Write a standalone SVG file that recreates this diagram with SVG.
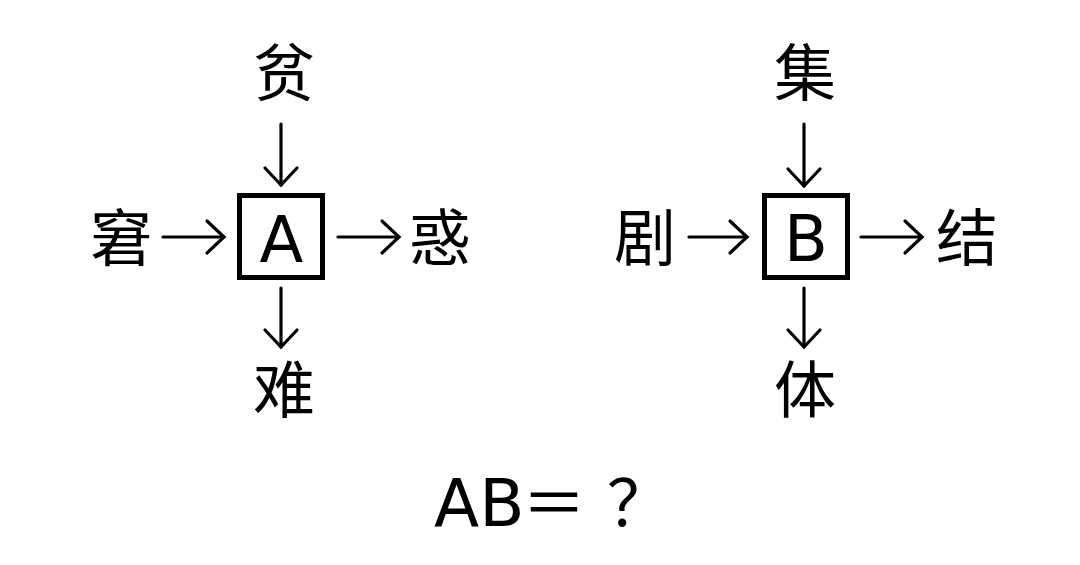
<svg xmlns="http://www.w3.org/2000/svg" width="1080" height="565" viewBox="0 0 1080 565">
<defs>
<style>
.t{font-family:"Noto Sans CJK SC","Noto Sans",sans-serif;font-size:62px;fill:#000;text-anchor:middle}
.L{font-family:"DejaVu Sans","Noto Sans",sans-serif;font-size:64px;fill:#000;text-anchor:middle}
.Q{font-family:"DejaVu Sans","Noto Sans",sans-serif;font-size:66px;fill:#000}
.P{font-family:"Noto Sans CJK SC",sans-serif;font-size:64px;fill:#000;text-anchor:middle}
.box{fill:#fff;stroke:#000;stroke-width:5}
.c{stroke:#000;stroke-width:3.2;fill:none;stroke-linecap:round;marker-end:url(#ah)}
</style>
<marker id="ah" markerUnits="userSpaceOnUse" markerWidth="40" markerHeight="40" refX="0" refY="0" viewBox="-20 -20 40 40" orient="auto" overflow="visible">
<path d="M-17,-16 L0,0 L-17,16" fill="none" stroke="#000" stroke-width="3.2" stroke-linecap="round" stroke-linejoin="miter"/>
</marker>
</defs>
<rect width="1080" height="565" fill="#fff"/>
<g id="connectors">
<line class="c" x1="281" y1="124" x2="281" y2="185"/>
<line class="c" x1="163" y1="237" x2="224" y2="237"/>
<line class="c" x1="338" y1="237" x2="399" y2="237"/>
<line class="c" x1="281" y1="288" x2="281" y2="347"/>
<line class="c" x1="804" y1="124" x2="804" y2="186"/>
<line class="c" x1="689" y1="237" x2="747" y2="237"/>
<line class="c" x1="861" y1="237" x2="922" y2="237"/>
<line class="c" x1="804" y1="288" x2="804" y2="347"/>
</g>
<g id="nodeA">
<rect class="box" x="239.5" y="195.5" width="83" height="82"/>
<text class="L" x="281.5" y="262">A</text>
</g>
<g id="n-pin"><text class="t" x="284" y="96">贫</text></g>
<g id="n-jiong"><text class="t" x="121" y="261">窘</text></g>
<g id="n-huo"><text class="t" x="440" y="261">惑</text></g>
<g id="n-nan"><text class="t" x="284" y="413">难</text></g>
<g id="nodeB">
<rect class="box" x="764.5" y="195.5" width="83" height="82"/>
<text class="L" x="806" y="261">B</text>
</g>
<g id="n-ji"><text class="t" x="805" y="96">集</text></g>
<g id="n-ju"><text class="t" x="645" y="261">剧</text></g>
<g id="n-jie"><text class="t" x="967" y="261">结</text></g>
<g id="n-ti"><text class="t" x="805" y="413">体</text></g>
<g id="question">
<text class="Q" x="434" y="526">AB</text>
<text class="P" x="554" y="526">＝</text>
<text class="P" x="639" y="526">？</text>
</g>
</svg>
